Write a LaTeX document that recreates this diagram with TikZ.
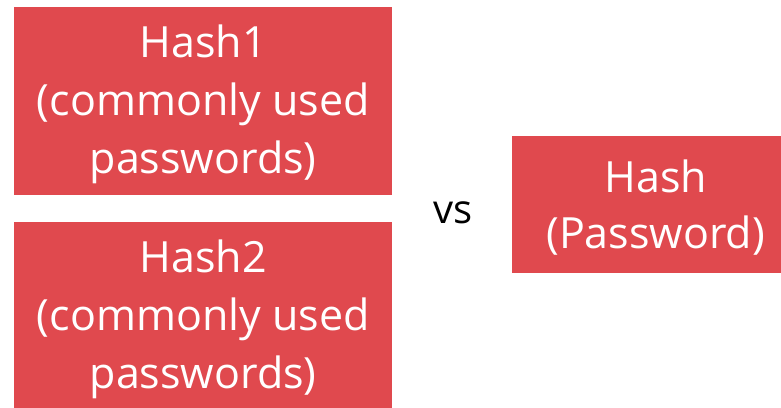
\documentclass[tikz,border=0pt]{standalone}
\usepackage{fontspec}
\setmainfont{Open Sans}
\definecolor{boxred}{RGB}{224,73,78}
\begin{document}
\begin{tikzpicture}[x=1pt,y=-1pt,
  redbox/.style={fill=boxred, draw=none, inner sep=0pt, anchor=north west},
  boxtext/.style={text=white, align=center, inner sep=0pt,
    font=\fontsize{43}{58}\selectfont, yshift=-3pt},
  vslabel/.style={text=black, font=\fontsize{40}{48}\selectfont, inner sep=0pt, anchor=base}]
  \useasboundingbox (0,0) rectangle (781,407);
  \clip (0,0) rectangle (781,407);
  % the three red boxes (the lower and right ones run past the page edge)
  \node[redbox, minimum width=378pt, minimum height=188pt] (h1) at (14,7) {};
  \node[redbox, minimum width=378pt, minimum height=188pt] (h2) at (14,222) {};
  \node[redbox, minimum width=287pt, minimum height=137pt] (hp) at (512,136) {};
  % their captions
  \node[boxtext] (t1) at (h1.center) {Hash1\\(commonly used\\passwords)};
  \node[boxtext] (t2) at (h2.center) {Hash2\\(commonly used\\passwords)};
  \node[boxtext, font=\fontsize{43}{56}\selectfont] (tp) at (hp.center) {Hash\\(Password)};
  \node[vslabel] (vs) at (453,223) {vs};
\end{tikzpicture}
\end{document}
